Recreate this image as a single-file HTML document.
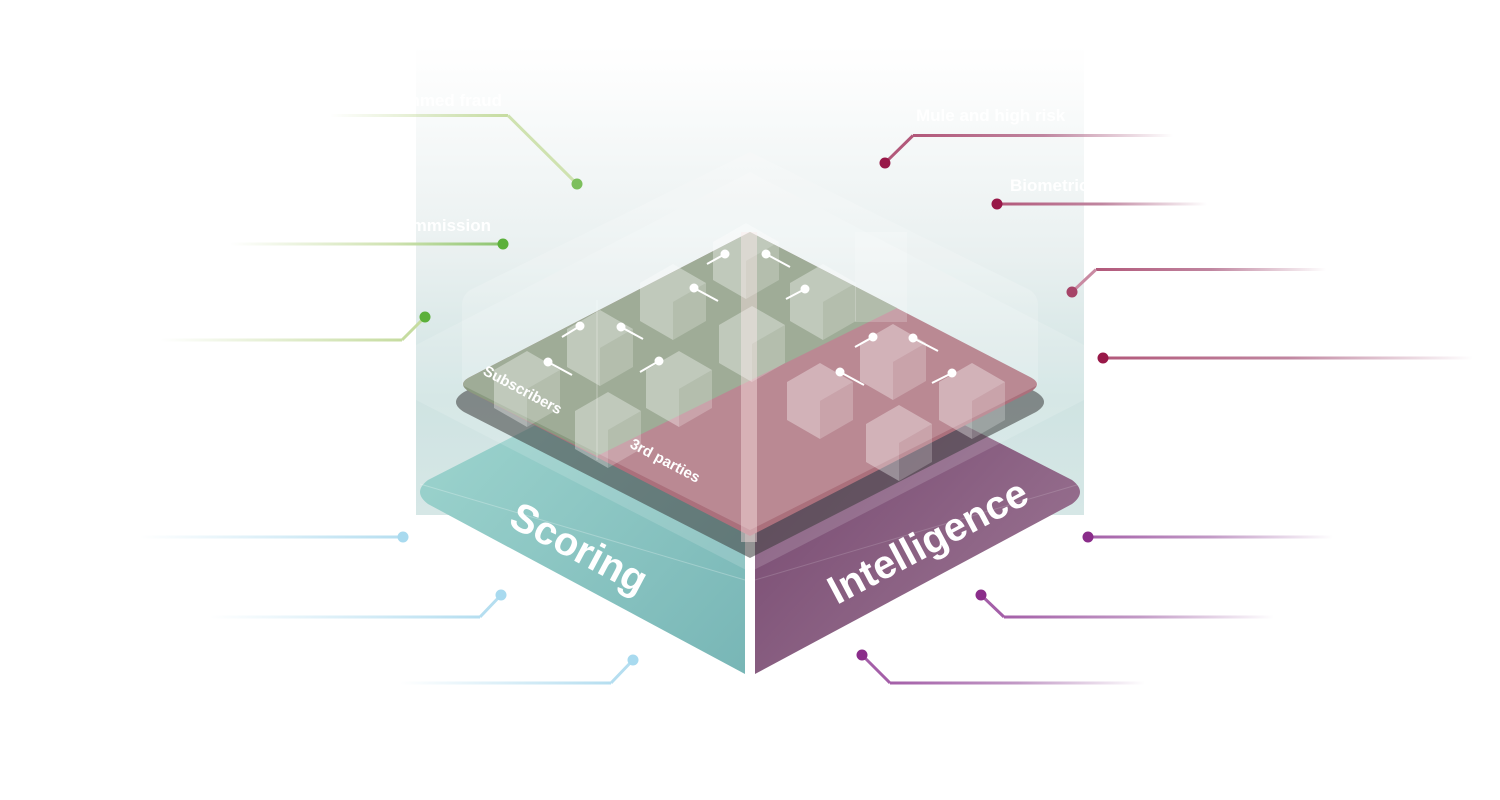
<!DOCTYPE html>
<html><head><meta charset="utf-8"><style>
html,body{margin:0;padding:0;background:#fff;width:1500px;height:800px;overflow:hidden}
text{font-family:"Liberation Sans",sans-serif;font-weight:bold;fill:#fff}
</style></head><body>
<svg width="1500" height="800" viewBox="0 0 1500 800" xmlns="http://www.w3.org/2000/svg">
<defs>
<linearGradient id="panel" x1="0" y1="0" x2="0" y2="1">
<stop offset="0" stop-color="#fff"/><stop offset="0.1" stop-color="#fbfcfc"/><stop offset="0.45" stop-color="#e9f0f0"/><stop offset="0.75" stop-color="#cfe3e2"/><stop offset="1" stop-color="#d6e7e6"/></linearGradient>
<linearGradient id="teal" x1="0" y1="0" x2="1" y2="1"><stop offset="0" stop-color="#a3d9d2"/><stop offset="1" stop-color="#78b6b6"/></linearGradient>
<linearGradient id="purp" x1="0" y1="0" x2="1" y2="1"><stop offset="0" stop-color="#6e3f68"/><stop offset="1" stop-color="#a07a97"/></linearGradient>
<linearGradient id="gL" x1="1" x2="0"><stop offset="0" stop-color="#c6dca0"/><stop offset="1" stop-color="#c6dca0" stop-opacity="0"/></linearGradient>
<linearGradient id="gL2" x1="1" x2="0"><stop offset="0" stop-color="#8cc470"/><stop offset="0.4" stop-color="#cfe2b0"/><stop offset="1" stop-color="#cfe2b0" stop-opacity="0"/></linearGradient>
<linearGradient id="bL" x1="1" x2="0"><stop offset="0" stop-color="#b5def0"/><stop offset="1" stop-color="#b5def0" stop-opacity="0"/></linearGradient>
<linearGradient id="rR" x1="0" x2="1"><stop offset="0" stop-color="#b2587a"/><stop offset="0.5" stop-color="#c086a0"/><stop offset="1" stop-color="#c086a0" stop-opacity="0"/></linearGradient>
<linearGradient id="pR" x1="0" x2="1"><stop offset="0" stop-color="#a45fa8"/><stop offset="0.5" stop-color="#c29ac6"/><stop offset="1" stop-color="#c29ac6" stop-opacity="0"/></linearGradient>
</defs>

<rect x="416" y="45" width="668" height="470" fill="url(#panel)"/>

<!-- bottom slab -->
<path d="M745,318 L428,480 Q412,492 428,504 L745,674 Z" fill="url(#teal)"/>
<path d="M755,318 L1072,480 Q1088,492 1072,504 L755,674 Z" fill="url(#purp)"/>
<path d="M420,484 L745,580" stroke="#fff" stroke-opacity=".25" fill="none"/>
<path d="M755,580 L1080,484" stroke="#fff" stroke-opacity=".15" fill="none"/>

<!-- outer glass -->
<path d="M750,172 L1084,345 L1084,400 L750,572 L416,400 L416,345 Z" fill="#fff" fill-opacity=".15"/>

<!-- middle dark layer -->
<path d="M750,247 L1036,392 Q1052,402 1036,412 L750,558 L464,412 Q448,402 464,392 Z" fill="#3a3a3a" fill-opacity=".55"/>
<!-- top face -->
<path d="M750,232 L1030,377 Q1044,384 1030,392 L750,536 L470,392 Q456,384 470,377 Z" fill="#ab707c"/>
<path d="M750,232 L897,308 L597,456 L470,392 Q456,384 470,377 Z" fill="#8a9a80"/>
<!-- inner glass box -->
<path d="M750,152 L1030,290 Q1038,296 1038,305 L1038,385 L750,530 L462,385 L462,305 Q462,296 470,290 Z" fill="#fff" fill-opacity=".18"/>
<path d="M597,300 L597,460" stroke="#fff" stroke-opacity=".35"/>
<rect x="741" y="232" width="16" height="310" fill="#fbe2e2" fill-opacity=".45"/>
<rect x="855" y="232" width="52" height="90" fill="#fff" fill-opacity=".2"/>

<g id="cubes">
<path d="M527,351 l33,19 l-33,19 l-33,-19 Z M494,370 l33,19 l0,38 l-33,-19 Z" fill="#fff" fill-opacity=".35"/><path d="M527,389 l33,-19 l0,38 l-33,19 Z" fill="#fff" fill-opacity=".22"/>
<path d="M600,310 l33,19 l-33,19 l-33,-19 Z M567,329 l33,19 l0,38 l-33,-19 Z" fill="#fff" fill-opacity=".35"/><path d="M600,348 l33,-19 l0,38 l-33,19 Z" fill="#fff" fill-opacity=".22"/>
<path d="M673,264 l33,19 l-33,19 l-33,-19 Z M640,283 l33,19 l0,38 l-33,-19 Z" fill="#fff" fill-opacity=".35"/><path d="M673,302 l33,-19 l0,38 l-33,19 Z" fill="#fff" fill-opacity=".22"/>
<path d="M746,223 l33,19 l-33,19 l-33,-19 Z M713,242 l33,19 l0,38 l-33,-19 Z" fill="#fff" fill-opacity=".35"/><path d="M746,261 l33,-19 l0,38 l-33,19 Z" fill="#fff" fill-opacity=".22"/>
<path d="M823,264 l33,19 l-33,19 l-33,-19 Z M790,283 l33,19 l0,38 l-33,-19 Z" fill="#fff" fill-opacity=".35"/><path d="M823,302 l33,-19 l0,38 l-33,19 Z" fill="#fff" fill-opacity=".22"/>
<path d="M893,324 l33,19 l-33,19 l-33,-19 Z M860,343 l33,19 l0,38 l-33,-19 Z" fill="#fff" fill-opacity=".35"/><path d="M893,362 l33,-19 l0,38 l-33,19 Z" fill="#fff" fill-opacity=".22"/>
<path d="M972,363 l33,19 l-33,19 l-33,-19 Z M939,382 l33,19 l0,38 l-33,-19 Z" fill="#fff" fill-opacity=".35"/><path d="M972,401 l33,-19 l0,38 l-33,19 Z" fill="#fff" fill-opacity=".22"/>
<path d="M608,392 l33,19 l-33,19 l-33,-19 Z M575,411 l33,19 l0,38 l-33,-19 Z" fill="#fff" fill-opacity=".35"/><path d="M608,430 l33,-19 l0,38 l-33,19 Z" fill="#fff" fill-opacity=".22"/>
<path d="M679,351 l33,19 l-33,19 l-33,-19 Z M646,370 l33,19 l0,38 l-33,-19 Z" fill="#fff" fill-opacity=".35"/><path d="M679,389 l33,-19 l0,38 l-33,19 Z" fill="#fff" fill-opacity=".22"/>
<path d="M752,306 l33,19 l-33,19 l-33,-19 Z M719,325 l33,19 l0,38 l-33,-19 Z" fill="#fff" fill-opacity=".35"/><path d="M752,344 l33,-19 l0,38 l-33,19 Z" fill="#fff" fill-opacity=".22"/>
<path d="M820,363 l33,19 l-33,19 l-33,-19 Z M787,382 l33,19 l0,38 l-33,-19 Z" fill="#fff" fill-opacity=".35"/><path d="M820,401 l33,-19 l0,38 l-33,19 Z" fill="#fff" fill-opacity=".22"/>
<path d="M899,405 l33,19 l-33,19 l-33,-19 Z M866,424 l33,19 l0,38 l-33,-19 Z" fill="#fff" fill-opacity=".35"/><path d="M899,443 l33,-19 l0,38 l-33,19 Z" fill="#fff" fill-opacity=".22"/>
</g>
<g stroke="#fff" stroke-width="2" fill="#fff">
<line x1="580" y1="326" x2="562" y2="337"/><circle cx="580" cy="326" r="3.5"/>
<line x1="621" y1="327" x2="643" y2="339"/><circle cx="621" cy="327" r="3.5"/>
<line x1="548" y1="362" x2="572" y2="375"/><circle cx="548" cy="362" r="3.5"/>
<line x1="659" y1="361" x2="640" y2="372"/><circle cx="659" cy="361" r="3.5"/>
<line x1="725" y1="254" x2="707" y2="264"/><circle cx="725" cy="254" r="3.5"/>
<line x1="766" y1="254" x2="790" y2="267"/><circle cx="766" cy="254" r="3.5"/>
<line x1="694" y1="288" x2="718" y2="301"/><circle cx="694" cy="288" r="3.5"/>
<line x1="805" y1="289" x2="786" y2="299"/><circle cx="805" cy="289" r="3.5"/>
<line x1="873" y1="337" x2="855" y2="347"/><circle cx="873" cy="337" r="3.5"/>
<line x1="913" y1="338" x2="938" y2="351"/><circle cx="913" cy="338" r="3.5"/>
<line x1="840" y1="372" x2="864" y2="385"/><circle cx="840" cy="372" r="3.5"/>
<line x1="952" y1="373" x2="932" y2="383"/><circle cx="952" cy="373" r="3.5"/>
</g>

<text transform="translate(482,374) rotate(28)" font-size="15">Subscribers</text>
<text transform="translate(629,447) rotate(28)" font-size="15">3rd parties</text>
<text transform="translate(507,525) rotate(28)" font-size="40">Scoring</text>
<text transform="translate(837,605) rotate(-28)" font-size="40">Intelligence</text>

<rect x="330" y="114" width="178" height="3" fill="url(#gL)"/>
<line x1="508" y1="115.5" x2="577" y2="184" stroke="#cfe2b0" stroke-width="3"/>
<circle cx="577" cy="184" r="5.5" fill="#7cbf5c"/>
<rect x="230" y="242.5" width="273" height="3" fill="url(#gL2)"/>
<circle cx="503" cy="244" r="5.5" fill="#5bb03a"/>
<rect x="160" y="338.5" width="242" height="3" fill="url(#gL)"/>
<line x1="402" y1="340" x2="425" y2="317" stroke="#c6dca0" stroke-width="3"/>
<circle cx="425" cy="317" r="5.5" fill="#5bb03a"/>
<text x="502" y="106" font-size="17" text-anchor="end">Programmed fraud</text>
<text x="491" y="231" font-size="17" text-anchor="end">Commission</text>

<rect x="140" y="535.5" width="263" height="3" fill="url(#bL)"/>
<circle cx="403" cy="537" r="5.5" fill="#a8daef"/>
<rect x="210" y="615.5" width="270" height="3" fill="url(#bL)"/>
<line x1="480" y1="617" x2="501" y2="595" stroke="#b5def0" stroke-width="3"/>
<circle cx="501" cy="595" r="5.5" fill="#a8daef"/>
<rect x="400" y="681.5" width="211" height="3" fill="url(#bL)"/>
<line x1="611" y1="683" x2="633" y2="660" stroke="#b5def0" stroke-width="3"/>
<circle cx="633" cy="660" r="5.5" fill="#a8daef"/>

<rect x="913" y="134" width="260" height="3" fill="url(#rR)"/>
<line x1="885" y1="163" x2="913" y2="135.5" stroke="#b2587a" stroke-width="3"/>
<circle cx="885" cy="163" r="5.5" fill="#981848"/>
<rect x="997" y="202.5" width="210" height="3" fill="url(#rR)"/>
<circle cx="997" cy="204" r="5.5" fill="#981848"/>
<rect x="1096" y="268" width="230" height="3" fill="url(#rR)"/>
<line x1="1072" y1="292" x2="1096" y2="269.5" stroke="#c98aa2" stroke-width="3"/>
<circle cx="1072" cy="292" r="5.5" fill="#a64468"/>
<rect x="1103" y="356.5" width="370" height="3" fill="url(#rR)"/>
<circle cx="1103" cy="358" r="5.5" fill="#981848"/>
<text x="916" y="121" font-size="17">Mule and high risk</text>
<text x="1010" y="191" font-size="17">Biometrics</text>

<rect x="1088" y="535.5" width="245" height="3" fill="url(#pR)"/>
<circle cx="1088" cy="537" r="5.5" fill="#8a2d8a"/>
<rect x="1004" y="615.5" width="270" height="3" fill="url(#pR)"/>
<line x1="981" y1="595" x2="1004" y2="617" stroke="#a45fa8" stroke-width="3"/>
<circle cx="981" cy="595" r="5.5" fill="#8a2d8a"/>
<rect x="890" y="681.5" width="255" height="3" fill="url(#pR)"/>
<line x1="862" y1="655" x2="890" y2="683" stroke="#a45fa8" stroke-width="3"/>
<circle cx="862" cy="655" r="5.5" fill="#8a2d8a"/>
</svg>
</body></html>
